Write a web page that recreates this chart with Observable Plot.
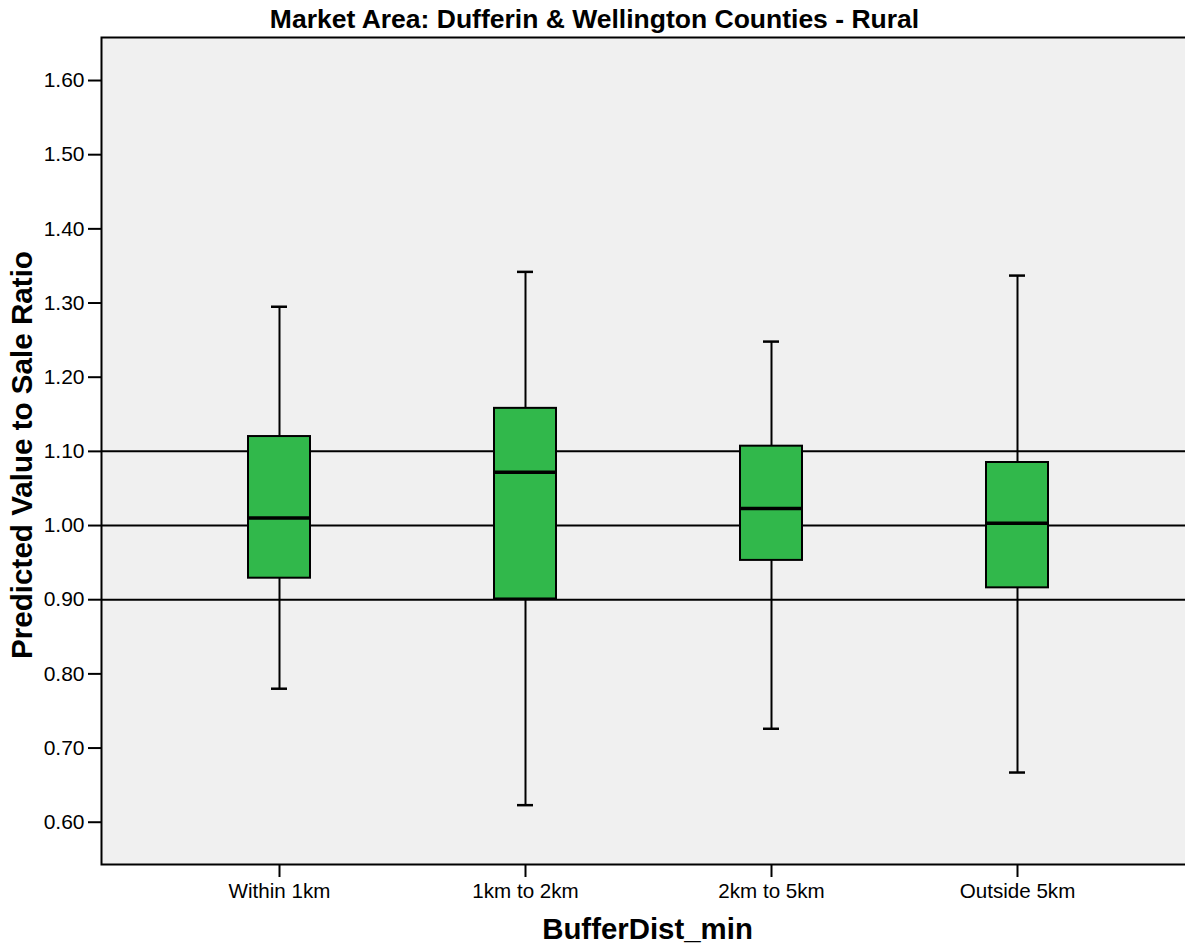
<!DOCTYPE html>
<html>
<head>
<meta charset="utf-8">
<script src="https://cdn.jsdelivr.net/npm/d3@7"></script>
<script src="https://cdn.jsdelivr.net/npm/@observablehq/plot@0.6"></script>
<style>
  html, body { margin: 0; padding: 0; background: #fff; overflow: hidden; }
  #chart svg { display: block; }
</style>
</head>
<body>
<div id="chart"></div>
<script>
const categories = ["Within 1km", "1km to 2km", "2km to 5km", "Outside 5km"];
const whiskerLow  = [0.780, 0.623, 0.726, 0.667];
const q1          = [0.929, 0.901, 0.953, 0.916];
const median      = [1.010, 1.072, 1.023, 1.003];
const q3          = [1.120, 1.158, 1.107, 1.085];
const whiskerHigh = [1.295, 1.342, 1.248, 1.337];
const refLines = [0.9, 1.0, 1.1];
const yTicks = [0.6, 0.7, 0.8, 0.9, 1.0, 1.1, 1.2, 1.3, 1.4, 1.5, 1.6];

const title = "Market Area: Dufferin & Wellington Counties - Rural";
const xLabel = "BufferDist_min";
const yLabel = "Predicted Value to Sale Ratio";

const data = categories.map((c, i) => ({
  cat: c, lo: whiskerLow[i], q1: q1[i], med: median[i], q3: q3[i], hi: whiskerHigh[i]
}));

const font = "Arial, 'Liberation Sans', sans-serif";

const chart = Plot.plot({
  width: 1185,
  height: 947,
  marginLeft: 101,
  marginRight: -12,
  marginTop: 37,
  marginBottom: 83,
  style: { fontFamily: font, fontSize: "20px", color: "#000", background: "#fff" },
  x: { type: "band", domain: categories, range: [156, 1140], paddingInner: 0.748, paddingOuter: 0.374 },
  y: { domain: [0.543, 1.658] },
  marks: [
    Plot.frame({ fill: "#f0f0f0", stroke: "#000", strokeWidth: 2 }),
    Plot.ruleY(refLines, { stroke: "#000", strokeWidth: 2 }),
    Plot.axisY(yTicks, { tickFormat: d3.format(".2f"), tickSize: 13, tickPadding: 4, strokeWidth: 2, fontSize: 21, label: null }),
    Plot.axisX(categories, { tickSize: 13, tickPadding: 6, strokeWidth: 2, fontSize: 20.6, label: null }),
    Plot.ruleX(data, { x: "cat", y1: "lo", y2: "hi", stroke: "#000", strokeWidth: 2 }),
    Plot.barY(data, { x: "cat", y1: "q1", y2: "q3", fill: "#31b84b", stroke: "#000", strokeWidth: 2 }),
    Plot.tickY(data, { x: "cat", y: "med", stroke: "#000", strokeWidth: 3.5 }),
    Plot.tickY(data, { x: "cat", y: "hi", stroke: "#000", strokeWidth: 2.5, insetLeft: 23, insetRight: 23 }),
    Plot.tickY(data, { x: "cat", y: "lo", stroke: "#000", strokeWidth: 2.5, insetLeft: 23, insetRight: 23 }),
    Plot.text([title], { frameAnchor: "top", lineAnchor: "middle", dy: -18, dx: -55, fontSize: 26.5, fontWeight: "bold", fill: "#000" }),
    Plot.text([xLabel], { frameAnchor: "bottom", lineAnchor: "middle", dy: 65, dx: -2, fontSize: 29.4, fontWeight: "bold", fill: "#000" }),
    Plot.text([yLabel], { frameAnchor: "left", textAnchor: "middle", dx: -79, dy: 4, rotate: -90, fontSize: 29.6, fontWeight: "bold", fill: "#000" })
  ]
});
document.getElementById("chart").append(chart);
</script>
</body>
</html>
